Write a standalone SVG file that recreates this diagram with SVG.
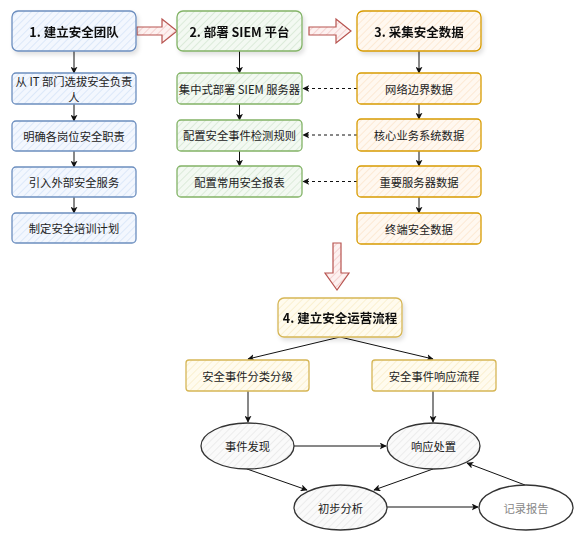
<svg xmlns="http://www.w3.org/2000/svg" width="583" height="544" viewBox="0 0 583 544">
<style>
text{font-family:"Noto Sans CJK SC","Liberation Sans",sans-serif;fill:#222;text-anchor:middle;dominant-baseline:central}
.t{font-size:12.5px;font-weight:bold;fill:#111}
.s{font-size:11.3px}
.b{stroke:#6c8ebf;fill:url(#hb);stroke-width:1.3}
.g{stroke:#82b366;fill:url(#hg);stroke-width:1.3}
.o{stroke:#d79b00;fill:url(#ho);stroke-width:1.3}
.y{stroke:#d6b656;fill:url(#hy);stroke-width:1.3}
.e{stroke:#333;fill:url(#he);stroke-width:1.3}
.c{stroke:#111;stroke-width:1;fill:none;marker-end:url(#ah)}
.d{stroke:#111;stroke-width:1;fill:none;stroke-dasharray:3 3;marker-end:url(#ah)}
.r{stroke:#b85450;fill:url(#hr);stroke-width:1.2}
</style>
<defs>
<pattern id="hb" patternUnits="userSpaceOnUse" width="5" height="5" patternTransform="rotate(45)"><rect width="5" height="5" fill="#f3f7fe"/><line x1="0" y1="0" x2="0" y2="5" stroke="#d3e2f8" stroke-width="1.4"/></pattern>
<pattern id="hg" patternUnits="userSpaceOnUse" width="5" height="5" patternTransform="rotate(45)"><rect width="5" height="5" fill="#f3f9f2"/><line x1="0" y1="0" x2="0" y2="5" stroke="#d2e6d0" stroke-width="1.4"/></pattern>
<pattern id="ho" patternUnits="userSpaceOnUse" width="5" height="5" patternTransform="rotate(45)"><rect width="5" height="5" fill="#fff8f0"/><line x1="0" y1="0" x2="0" y2="5" stroke="#fbe3c9" stroke-width="1.4"/></pattern>
<pattern id="hy" patternUnits="userSpaceOnUse" width="5" height="5" patternTransform="rotate(45)"><rect width="5" height="5" fill="#fffbee"/><line x1="0" y1="0" x2="0" y2="5" stroke="#f8ecc4" stroke-width="1.4"/></pattern>
<pattern id="he" patternUnits="userSpaceOnUse" width="5" height="5" patternTransform="rotate(45)"><rect width="5" height="5" fill="#fafafa"/><line x1="0" y1="0" x2="0" y2="5" stroke="#e6e6e6" stroke-width="1.4"/></pattern>
<pattern id="hr" patternUnits="userSpaceOnUse" width="5" height="5" patternTransform="rotate(45)"><rect width="5" height="5" fill="#fdf1f0"/><line x1="0" y1="0" x2="0" y2="5" stroke="#f2c4c2" stroke-width="1.4"/></pattern>
<marker id="ah" viewBox="0 0 10 10" refX="9" refY="5" markerWidth="7" markerHeight="7" orient="auto" markerUnits="userSpaceOnUse"><path d="M0,0 L10,5 L0,10 L2.5,5 Z" fill="#111"/></marker>
<filter id="sh" x="-10%" y="-10%" width="130%" height="140%"><feDropShadow dx="2" dy="3" stdDeviation="2" flood-color="#000" flood-opacity="0.12"/></filter>
</defs>

<g id="connectors">
<path class="r" d="M137,27 L162,27 L162,19 L177,31 L162,43 L162,35 L137,35 Z"/>
<path class="r" d="M309,27 L336,27 L336,19 L351,31 L336,43 L336,35 L309,35 Z"/>
<path class="r" d="M333,243 L341,243 L341,273 L349,273 L337,290 L325,273 L333,273 Z"/>
<line class="c" x1="74" y1="51" x2="74" y2="73"/>
<line class="c" x1="74" y1="104" x2="74" y2="121"/>
<line class="c" x1="74" y1="151" x2="74" y2="167"/>
<line class="c" x1="74" y1="197" x2="74" y2="213"/>
<line class="c" x1="239.5" y1="51" x2="239.5" y2="73"/>
<line class="c" x1="239.5" y1="104" x2="239.5" y2="120"/>
<line class="c" x1="239.5" y1="151" x2="239.5" y2="166"/>
<line class="c" x1="419" y1="51" x2="419" y2="73"/>
<line class="c" x1="419" y1="104" x2="419" y2="119"/>
<line class="c" x1="419" y1="151" x2="419" y2="166"/>
<line class="c" x1="419" y1="197" x2="419" y2="213"/>
<line class="d" x1="357" y1="88.5" x2="303" y2="88.5"/>
<line class="d" x1="357" y1="135" x2="303" y2="135"/>
<line class="d" x1="357" y1="181.5" x2="303" y2="181.5"/>
<line class="c" x1="340" y1="337" x2="248" y2="359"/>
<line class="c" x1="340" y1="337" x2="433" y2="359"/>
<line class="c" x1="248" y1="391" x2="248" y2="422"/>
<line class="c" x1="433" y1="391" x2="433" y2="422"/>
<line class="c" x1="294" y1="446" x2="386" y2="446"/>
<line class="c" x1="247" y1="469" x2="307" y2="490"/>
<line class="c" x1="433" y1="469" x2="374" y2="490"/>
<line class="c" x1="387" y1="507" x2="478" y2="507"/>
<line class="c" x1="525" y1="485" x2="467" y2="463"/>
</g>

<g id="n1" filter="url(#sh)"><rect class="b" x="12" y="11" width="124" height="40" rx="6"/><text class="t" x="74" y="31">1. 建立安全团队</text></g>
<g id="n1a"><rect class="b" x="12" y="73" width="124" height="31" rx="4"/><text class="s" x="74" y="80.5">从 IT 部门选拔安全负责</text><text class="s" x="74" y="97">人</text></g>
<g id="n1b"><rect class="b" x="12" y="121" width="124" height="30" rx="4"/><text class="s" x="74" y="136">明确各岗位安全职责</text></g>
<g id="n1c"><rect class="b" x="12" y="167" width="124" height="30" rx="4"/><text class="s" x="74" y="182">引入外部安全服务</text></g>
<g id="n1d"><rect class="b" x="12" y="213" width="124" height="30" rx="4"/><text class="s" x="74" y="228">制定安全培训计划</text></g>

<g id="n2" filter="url(#sh)"><rect class="g" x="177" y="11" width="125" height="40" rx="6"/><text class="t" x="239.5" y="31">2. 部署 SIEM 平台</text></g>
<g id="n2a"><rect class="g" x="177" y="73" width="125" height="31" rx="4"/><text class="s" x="239.5" y="88.5">集中式部署 SIEM 服务器</text></g>
<g id="n2b"><rect class="g" x="177" y="120" width="125" height="31" rx="4"/><text class="s" x="239.5" y="135">配置安全事件检测规则</text></g>
<g id="n2c"><rect class="g" x="177" y="166" width="125" height="31" rx="4"/><text class="s" x="239.5" y="181.5">配置常用安全报表</text></g>

<g id="n3" filter="url(#sh)"><rect class="o" x="357" y="11" width="124" height="40" rx="6"/><text class="t" x="419" y="31">3. 采集安全数据</text></g>
<g id="n3a"><rect class="o" x="357" y="73" width="124" height="31" rx="4"/><text class="s" x="419" y="88.5">网络边界数据</text></g>
<g id="n3b"><rect class="o" x="357" y="119" width="124" height="32" rx="4"/><text class="s" x="419" y="135">核心业务系统数据</text></g>
<g id="n3c"><rect class="o" x="357" y="166" width="124" height="31" rx="4"/><text class="s" x="419" y="181.5">重要服务器数据</text></g>
<g id="n3d"><rect class="o" x="357" y="213" width="124" height="31" rx="4"/><text class="s" x="419" y="228.5">终端安全数据</text></g>

<g id="n4" filter="url(#sh)"><rect class="y" x="278" y="298" width="124" height="39" rx="6"/><text class="t" x="340" y="317.5">4. 建立安全运营流程</text></g>
<g id="n4a"><rect class="y" x="186" y="360" width="123" height="31" rx="3"/><text class="s" x="247.5" y="375.5">安全事件分类分级</text></g>
<g id="n4b"><rect class="y" x="372" y="360" width="124" height="31" rx="3"/><text class="s" x="434" y="375.5">安全事件响应流程</text></g>

<g id="e1"><ellipse class="e" cx="247.5" cy="446" rx="46.5" ry="23"/><text class="s" x="247.5" y="446">事件发现</text></g>
<g id="e2"><ellipse class="e" cx="433.5" cy="446" rx="46.5" ry="23"/><text class="s" x="433.5" y="446">响应处置</text></g>
<g id="e3"><ellipse class="e" cx="340.5" cy="507.5" rx="46.5" ry="22.5"/><text class="s" x="340.5" y="507.5">初步分析</text></g>
<g id="e4"><ellipse cx="526" cy="507.5" rx="47" ry="22.5" fill="#fff" stroke="#333" stroke-width="1.3"/><text class="s" x="526" y="507.5" style="fill:#888">记录报告</text></g>
</svg>
